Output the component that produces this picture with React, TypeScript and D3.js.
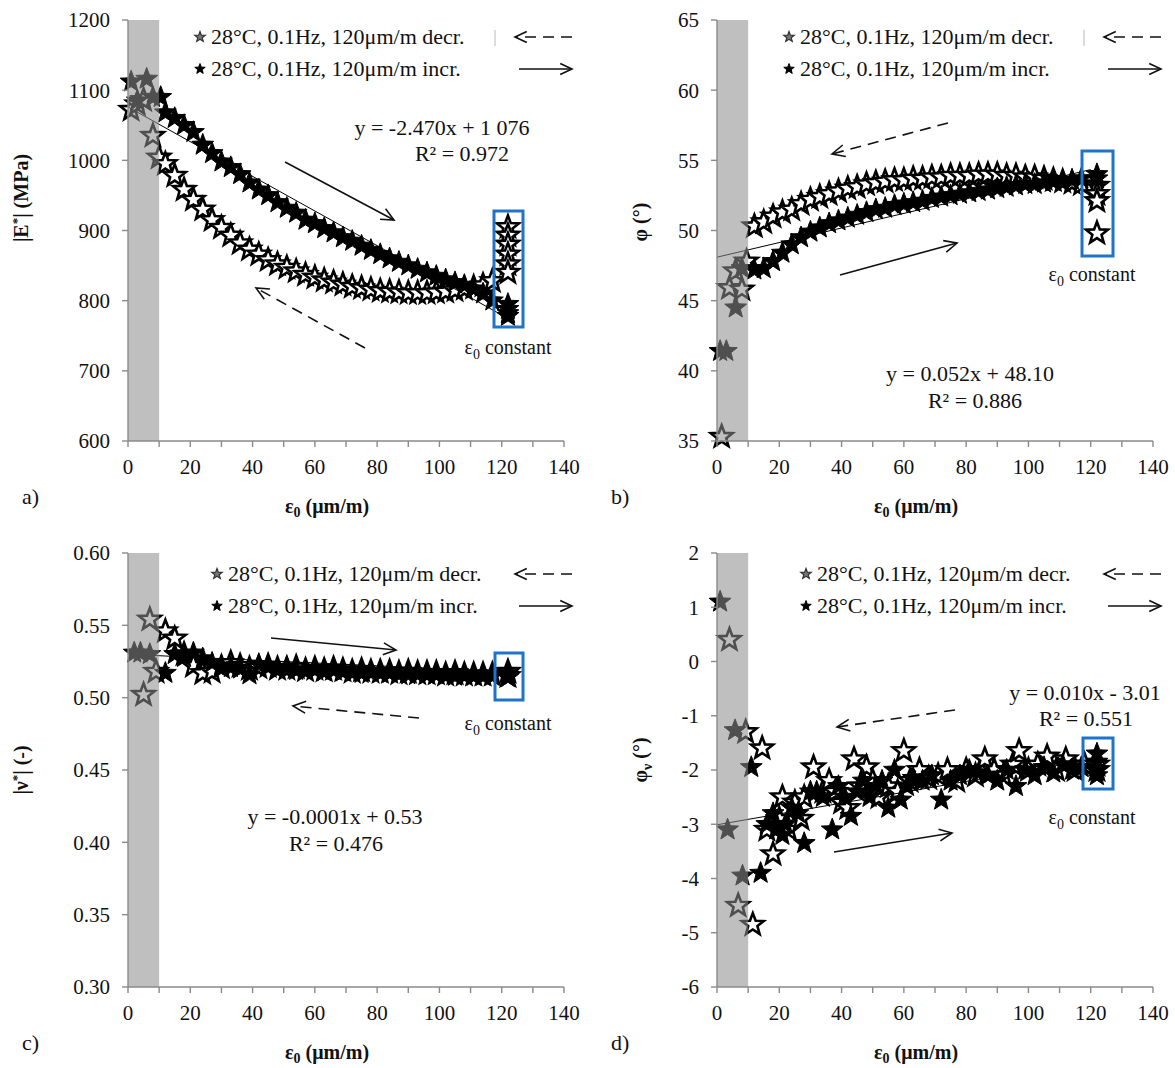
import React from "react";
import * as d3 from "d3";

// ---------- DATA ----------
const xTicks = [0, 20, 40, 60, 80, 100, 120, 140];
const xMinorTicks = [0, 10, 20, 30, 40, 50, 60, 70, 80, 90, 100, 110, 120, 130, 140];

// strain levels of the main sweeps (µm/m)
const strainSteps = [12, 15, 18, 21, 24, 27, 30, 33, 36, 39, 42, 45, 48, 51, 54, 57, 60, 63, 66, 69, 72, 75, 78, 81, 84, 87, 90, 93, 96, 99, 102, 105, 108, 111, 114, 117];
const constStrain = 122;

// a) |E*| (MPa)
const aTicks = [600, 700, 800, 900, 1000, 1100, 1200];
const aDecr = [995, 978, 958, 944, 930, 915, 904, 893, 882, 873, 866, 858, 852, 847, 842, 837, 833, 829, 826, 823, 820, 818, 816, 814, 813, 812, 811, 811, 811, 812, 813, 815, 817, 819, 822, 828];
const aIncr = [1068, 1060, 1050, 1040, 1022, 1010, 998, 990, 980, 968, 958, 950, 940, 932, 925, 915, 910, 903, 897, 890, 885, 878, 872, 866, 860, 855, 850, 845, 840, 835, 830, 826, 822, 817, 810, 800];
const aDecrLeadX = [1, 3, 5, 8, 10];
const aDecrLeadY = [1072, 1080, 1086, 1035, 1004];
const aIncrLeadX = [1, 3, 6, 8, 10.5];
const aIncrLeadY = [1112, 1085, 1116, 1090, 1090];
const aDecrBox = [905, 893, 880, 866, 852, 840];
const aIncrBox = [795, 788, 782, 778];

// b) phi (°)
const bTicks = [35, 40, 45, 50, 55, 60, 65];
const bDecr = [50.3, 50.6, 51.0, 51.3, 51.5, 51.9, 52.2, 52.4, 52.6, 52.8, 53.0, 53.1, 53.3, 53.4, 53.5, 53.6, 53.6, 53.7, 53.7, 53.8, 53.8, 53.9, 53.9, 53.9, 54.0, 54.0, 54.0, 53.9, 53.9, 53.8, 53.8, 53.7, 53.6, 53.5, 53.4, 53.3];
const bIncr = [47.2, 47.3, 47.8, 48.4, 49.0, 49.5, 49.9, 50.2, 50.5, 50.7, 50.9, 51.1, 51.3, 51.5, 51.6, 51.8, 51.9, 52.0, 52.1, 52.3, 52.4, 52.5, 52.6, 52.7, 52.8, 52.9, 53.0, 53.1, 53.2, 53.3, 53.3, 53.4, 53.5, 53.5, 53.6, 53.7];
const bDecrLeadX = [1.5, 4, 6, 8, 9.5];
const bDecrLeadY = [35.3, 45.9, 47.1, 45.8, 47.8];
const bIncrLeadX = [1, 3, 6, 8];
const bIncrLeadY = [41.4, 41.4, 44.5, 47.3];
const bDecrBox = [53.2, 52.6, 52.1, 49.8];
const bIncrBox = [54.0, 53.7];

// c) |nu*| (-)
const cTicks = [0.3, 0.35, 0.4, 0.45, 0.5, 0.55, 0.6];
const cDecr = [0.546, 0.541, 0.53, 0.522, 0.517, 0.518, 0.521, 0.524, 0.522, 0.52, 0.521, 0.522, 0.52, 0.52, 0.521, 0.519, 0.52, 0.519, 0.52, 0.519, 0.518, 0.519, 0.518, 0.518, 0.518, 0.517, 0.518, 0.517, 0.517, 0.517, 0.516, 0.517, 0.516, 0.516, 0.516, 0.516];
const cIncr = [0.517, 0.53, 0.528, 0.531, 0.527, 0.524, 0.522, 0.521, 0.52, 0.516, 0.523, 0.522, 0.52, 0.521, 0.519, 0.519, 0.52, 0.518, 0.519, 0.518, 0.518, 0.517, 0.518, 0.517, 0.517, 0.517, 0.516, 0.517, 0.516, 0.516, 0.516, 0.515, 0.516, 0.515, 0.515, 0.515];
const cDecrLeadX = [5, 7, 9];
const cDecrLeadY = [0.502, 0.554, 0.518];
const cIncrLeadX = [2, 4, 7];
const cIncrLeadY = [0.531, 0.531, 0.53];
const cDecrBox = [0.518, 0.515];
const cIncrBox = [0.517, 0.515, 0.514];

// d) phi_nu (°)
const dTicks = [-6, -5, -4, -3, -2, -1, 0, 1, 2];
const dDecrX = [4, 9.2, 6.8, 11.5, 14.5, 16, 18, 20, 21, 23, 25, 27, 28, 31, 34, 36, 38, 40, 42, 44, 46, 48, 50, 52, 55, 58, 60, 62, 65, 68, 71, 74, 77, 80, 83, 86, 89, 92, 95, 97, 100, 103, 106, 109, 112, 115, 118, 122, 122];
const dDecrY = [0.4, -1.3, -4.5, -4.85, -1.6, -3.1, -3.55, -2.9, -2.5, -3.1, -2.6, -2.9, -2.5, -1.95, -2.4, -2.2, -2.4, -2.6, -2.7, -1.8, -2.3, -1.95, -2.2, -2.5, -2.3, -2.4, -1.65, -2.2, -2.0, -2.15, -2.1, -2.0, -2.2, -2.0, -2.1, -1.8, -2.0, -2.1, -1.9, -1.65, -2.0, -1.9, -1.75, -2.0, -1.8, -2.0, -1.9, -1.9, -2.0];
const dIncrX = [1, 5.8, 3.4, 8.2, 11, 14, 16, 18, 19, 21, 22, 24, 26, 28, 30, 32, 34, 37, 39, 41, 43, 45, 47, 49, 51, 53, 55, 57, 59, 61, 63, 66, 69, 72, 75, 78, 81, 84, 87, 90, 93, 96, 99, 102, 105, 108, 111, 114, 117, 122, 122, 122, 122];
const dIncrY = [1.1, -1.27, -3.1, -3.95, -1.95, -3.9, -3.0, -2.8, -3.1, -3.2, -3.0, -2.7, -2.8, -3.35, -2.4, -2.4, -2.5, -3.1, -2.3, -2.5, -2.85, -2.4, -2.2, -2.5, -2.3, -2.2, -2.7, -2.0, -2.55, -2.3, -2.15, -2.2, -2.1, -2.55, -2.2, -2.1, -2.0, -2.05, -2.1, -2.2, -2.0, -2.3, -2.0, -2.1, -1.95, -2.05, -1.9, -2.0, -1.95, -1.7, -1.85, -2.0, -2.1];

// trendlines: slope, intercept
const trendA = [-2.47, 1076];
const trendB = [0.052, 48.1];
const trendC = [-0.0001, 0.53];
const trendD = [0.01, -3.01];

const legendDecr = "28°C, 0.1Hz, 120μm/m decr.";
const legendIncr = "28°C, 0.1Hz, 120μm/m incr.";

// ---------- helpers ----------
const FONT = '"Liberation Serif", "Times New Roman", Times, serif';

type Pt = { x: number; y: number };
const zipPts = (xs: number[], ys: number[]): Pt[] => ys.map((y, i) => ({ x: xs[i], y }));
const boxPts = (ys: number[]): Pt[] => ys.map((y) => ({ x: constStrain, y }));

function starPath(R: number, ratio = 0.42) {
  const pts: [number, number][] = [];
  for (let i = 0; i < 10; i++) {
    const r = i % 2 === 0 ? R : R * ratio;
    const a = -Math.PI / 2 + (i * Math.PI) / 5;
    pts.push([r * Math.cos(a), r * Math.sin(a)]);
  }
  return d3.line()(pts.concat([pts[0]])) + "Z";
}
const BIG_STAR = starPath(11.5);
const SMALL_STAR = starPath(5.5);

function Arrow({ x1, y1, x2, y2, dashed, head = 14 }: any) {
  const ang = Math.atan2(y2 - y1, x2 - x1);
  const s = (25 * Math.PI) / 180;
  const hx1 = x2 - head * Math.cos(ang - s);
  const hy1 = y2 - head * Math.sin(ang - s);
  const hx2 = x2 - head * Math.cos(ang + s);
  const hy2 = y2 - head * Math.sin(ang + s);
  return (
    <g stroke="#111" strokeWidth={1.6} fill="none">
      <line x1={x1} y1={y1} x2={x2} y2={y2} strokeDasharray={dashed ? "11 7" : undefined} />
      <polyline points={`${hx1},${hy1} ${x2},${y2} ${hx2},${hy2}`} />
    </g>
  );
}

type PanelCfg = {
  left: number;
  top: number;
  bottom: number;
  yDomain: [number, number];
  yTicks: number[];
  fmt: (v: number) => string;
  decr: Pt[];
  incr: Pt[];
  trend: number[];
  letter: string;
  yTitle: React.ReactNode;
  eq: [string, string];
  eqPos: [number, number, number, number];
  arrows: { x1: number; y1: number; x2: number; y2: number; dashed: boolean }[];
  box: [number, number, number, number];
  constLabel: [number, number];
  legendOffset: number;
  legendRow1: number;
  showBar: boolean;
};

function Panel({ c }: { c: PanelCfg }) {
  const right = c.left + 436;
  const x = d3.scaleLinear().domain([0, 140]).range([c.left, right]);
  const y = d3.scaleLinear().domain(c.yDomain).range([c.bottom, c.top]);
  const trendEnd = 120;
  const lx = c.left + c.legendOffset;
  const r1 = c.legendRow1;
  const r2 = r1 + 32;
  const xTitleY = c.bottom + 72;
  const arrowRight = c.left + 444;
  return (
    <g fontFamily={FONT}>
      {c.decr.map((p, i) => (
        <path key={"d" + i} d={BIG_STAR} transform={`translate(${x(p.x)},${y(p.y)})`} fill="#fff" stroke="#000" strokeWidth={2.6} />
      ))}
      {c.incr.map((p, i) => (
        <path key={"i" + i} d={BIG_STAR} transform={`translate(${x(p.x)},${y(p.y)})`} fill="#000" stroke="#000" strokeWidth={1} />
      ))}
      <line x1={x(0)} y1={y(c.trend[1])} x2={x(trendEnd)} y2={y(c.trend[0] * trendEnd + c.trend[1])} stroke="#000" strokeWidth={1} />
      <rect x={x(0)} y={c.top} width={x(10) - x(0)} height={c.bottom - c.top} fill="#8c8c8c" fillOpacity={0.56} />
      <line x1={x(0)} y1={c.top} x2={x(0)} y2={c.bottom} stroke="#8a8a8a" strokeWidth={1.4} />
      <line x1={x(0)} y1={c.bottom} x2={right} y2={c.bottom} stroke="#8a8a8a" strokeWidth={1.4} />
      {c.yTicks.map((t) => (
        <g key={"yt" + t}>
          <line x1={x(0) - 6} x2={x(0)} y1={y(t)} y2={y(t)} stroke="#8a8a8a" strokeWidth={1.4} />
          <text x={x(0) - 18} y={y(t)} dy="0.35em" textAnchor="end" fontSize={21} fill="#111">
            {c.fmt(t)}
          </text>
        </g>
      ))}
      {xMinorTicks.map((t) => (
        <line key={"xm" + t} x1={x(t)} x2={x(t)} y1={c.bottom} y2={c.bottom + 6} stroke="#8a8a8a" strokeWidth={1.4} />
      ))}
      {xTicks.map((t) => (
        <text key={"xt" + t} x={x(t)} y={c.bottom + 33} textAnchor="middle" fontSize={21} fill="#111">
          {t}
        </text>
      ))}
      <text x={c.left + 199} y={xTitleY} textAnchor="middle" fontSize={20} fontWeight="bold" fill="#111">
        <tspan>ε</tspan>
        <tspan dy={4} fontSize={14}>0</tspan>
        <tspan dy={-4}> (μm/m)</tspan>
      </text>
      <text x={c.left - 106} y={xTitleY - 9} fontSize={22} fill="#111">
        {c.letter}
      </text>
      {c.yTitle}
      <text x={c.eqPos[0]} y={c.eqPos[1]} textAnchor="middle" fontSize={22} fill="#111">
        {c.eq[0]}
      </text>
      <text x={c.eqPos[2]} y={c.eqPos[3]} textAnchor="middle" fontSize={22} fill="#111">
        {c.eq[1]}
      </text>
      {c.arrows.map((a, i) => (
        <Arrow key={"a" + i} {...a} />
      ))}
      <rect x={c.box[0]} y={c.box[1]} width={c.box[2] - c.box[0]} height={c.box[3] - c.box[1]} fill="none" stroke="#1f74c9" strokeWidth={3} />
      <text x={c.constLabel[0]} y={c.constLabel[1]} textAnchor="middle" fontSize={20} fill="#111">
        <tspan>ε</tspan>
        <tspan dy={5} fontSize={14}>0</tspan>
        <tspan dy={-5}> constant</tspan>
      </text>
      <path d={SMALL_STAR} transform={`translate(${lx},${r1 - 7})`} fill="#777" stroke="#333" strokeWidth={1.2} />
      <text x={lx + 11} y={r1} fontSize={22} fill="#111">
        {legendDecr}
      </text>
      <path d={SMALL_STAR} transform={`translate(${lx},${r2 - 7})`} fill="#000" stroke="#000" strokeWidth={1} />
      <text x={lx + 11} y={r2} fontSize={22} fill="#111">
        {legendIncr}
      </text>
      {c.showBar && <line x1={lx + 295} x2={lx + 295} y1={r1 - 14} y2={r1 + 2} stroke="#d0d0d0" strokeWidth={1.5} />}
      <Arrow x1={arrowRight} y1={r1 - 7} x2={arrowRight - 57} y2={r1 - 7} dashed head={13} />
      <Arrow x1={arrowRight - 53} y1={r2 - 7} x2={arrowRight} y2={r2 - 7} dashed={false} head={13} />
    </g>
  );
}

const yTitle = (cx: number, cy: number, content: React.ReactNode) => (
  <text transform={`translate(${cx},${cy}) rotate(-90)`} textAnchor="middle" fontSize={20} fontWeight="bold" fill="#111" fontFamily={FONT}>
    {content}
  </text>
);

export default function App() {
  const panels: PanelCfg[] = [
    {
      left: 128,
      top: 20,
      bottom: 441,
      yDomain: [600, 1200],
      yTicks: aTicks,
      fmt: (v) => String(v),
      decr: [...zipPts(aDecrLeadX, aDecrLeadY), ...zipPts(strainSteps, aDecr), ...boxPts(aDecrBox)],
      incr: [...zipPts(aIncrLeadX, aIncrLeadY), ...zipPts(strainSteps, aIncr), ...boxPts(aIncrBox)],
      trend: trendA,
      letter: "a)",
      yTitle: yTitle(28, 198, (
        <>
          <tspan>|E</tspan>
          <tspan dy={-7} fontSize={13}>*</tspan>
          <tspan dy={7}>| (MPa)</tspan>
        </>
      )),
      eq: ["y = -2.470x + 1 076", "R² = 0.972"],
      eqPos: [442, 135, 462, 161],
      arrows: [
        { x1: 285, y1: 162, x2: 394, y2: 220, dashed: false },
        { x1: 365, y1: 348, x2: 256, y2: 288, dashed: true },
      ],
      box: [494, 211, 523, 327],
      constLabel: [508, 354],
      legendOffset: 72,
      legendRow1: 44,
      showBar: true,
    },
    {
      left: 717,
      top: 20,
      bottom: 441,
      yDomain: [35, 65],
      yTicks: bTicks,
      fmt: (v) => String(v),
      decr: [...zipPts(bDecrLeadX, bDecrLeadY), ...zipPts(strainSteps, bDecr), ...boxPts(bDecrBox)],
      incr: [...zipPts(bIncrLeadX, bIncrLeadY), ...zipPts(strainSteps, bIncr), ...boxPts(bIncrBox)],
      trend: trendB,
      letter: "b)",
      yTitle: yTitle(647, 222, <tspan>φ (°)</tspan>),
      eq: ["y = 0.052x + 48.10", "R² = 0.886"],
      eqPos: [970, 381, 975, 408],
      arrows: [
        { x1: 948, y1: 123, x2: 832, y2: 154, dashed: true },
        { x1: 840, y1: 275, x2: 957, y2: 243, dashed: false },
      ],
      box: [1082, 151, 1113, 256],
      constLabel: [1092, 281],
      legendOffset: 72,
      legendRow1: 44,
      showBar: true,
    },
    {
      left: 128,
      top: 553,
      bottom: 987,
      yDomain: [0.3, 0.6],
      yTicks: cTicks,
      fmt: (v) => v.toFixed(2),
      decr: [...zipPts(cDecrLeadX, cDecrLeadY), ...zipPts(strainSteps, cDecr), ...boxPts(cDecrBox)],
      incr: [...zipPts(cIncrLeadX, cIncrLeadY), ...zipPts(strainSteps, cIncr), ...boxPts(cIncrBox)],
      trend: trendC,
      letter: "c)",
      yTitle: yTitle(28, 770, (
        <>
          <tspan>|ν</tspan>
          <tspan dy={-7} fontSize={13}>*</tspan>
          <tspan dy={7}>| (-)</tspan>
        </>
      )),
      eq: ["y = -0.0001x + 0.53", "R² = 0.476"],
      eqPos: [335, 824, 336, 851],
      arrows: [
        { x1: 271, y1: 638, x2: 396, y2: 650, dashed: false },
        { x1: 419, y1: 718, x2: 293, y2: 706, dashed: true },
      ],
      box: [495, 653, 523, 700],
      constLabel: [508, 730],
      legendOffset: 89,
      legendRow1: 581,
      showBar: false,
    },
    {
      left: 717,
      top: 553,
      bottom: 987,
      yDomain: [-6, 2],
      yTicks: dTicks,
      fmt: (v) => String(v),
      decr: zipPts(dDecrX, dDecrY),
      incr: zipPts(dIncrX, dIncrY),
      trend: trendD,
      letter: "d)",
      yTitle: yTitle(647, 760, (
        <>
          <tspan>φ</tspan>
          <tspan dy={5} fontSize={14}>ν</tspan>
          <tspan dy={-5}> (°)</tspan>
        </>
      )),
      eq: ["y = 0.010x - 3.01", "R² = 0.551"],
      eqPos: [1085, 700, 1086, 726],
      arrows: [
        { x1: 955, y1: 710, x2: 837, y2: 727, dashed: true },
        { x1: 834, y1: 852, x2: 952, y2: 833, dashed: false },
      ],
      box: [1083, 738, 1113, 789],
      constLabel: [1092, 824],
      legendOffset: 89,
      legendRow1: 581,
      showBar: false,
    },
  ];
  return (
    <svg width={1175} height={1068} style={{ position: "absolute", left: 0, top: 0, background: "#fff" }}>
      <rect width={1175} height={1068} fill="#fff" />
      {panels.map((p, i) => (
        <Panel key={i} c={p} />
      ))}
    </svg>
  );
}
